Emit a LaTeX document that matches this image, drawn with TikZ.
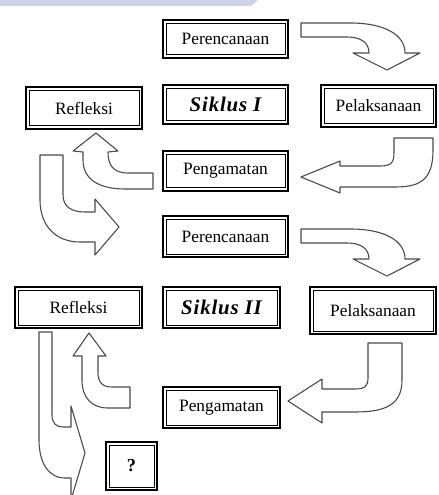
\documentclass[tikz,border=0pt]{standalone}
\usepackage{fontspec}
\setmainfont{Liberation Serif}
\usetikzlibrary{positioning}
\definecolor{band}{HTML}{CFD3E8}
\definecolor{edge}{HTML}{4A4A4A}

\tikzset{turndown/.pic = {
  \draw[blk] (0,0) -- (49,0) .. controls (84,0) and (104,12) .. (104,30)
    -- (119,30) -- (86,47) -- (52,30) -- (68,30)
    .. controls (68,19) and (59,14) .. (46,14) -- (0,14) -- cycle;}}

\begin{document}
\begin{tikzpicture}[x=0.6pt, y=-0.6pt,
  stage/.style = {draw, line width=1.4pt, inner sep=0pt, fill=white,
    font=\fontsize{10.4}{12}\selectfont,
    path picture={\draw[line width=0.5pt]
      ([shift={(1.8pt,1.8pt)}]path picture bounding box.south west) rectangle
      ([shift={(-1.8pt,-1.8pt)}]path picture bounding box.north east);}},
  siklus/.style = {stage, font=\fontsize{12.5}{14}\selectfont\bfseries\itshape\addfontfeature{LetterSpace=4}},
  blk/.style = {draw=edge, line width=0.65pt, fill=white, line join=round}]
\useasboundingbox (0,0) rectangle (438,495);
\clip (0,0) rectangle (438,495);
\fill[band] (0,0) -- (258,0) -- (251,6) -- (0,6) -- cycle;

% siklus I
\node[stage, minimum width=74.9pt, minimum height=22.7pt] (plan1) at (225.5,39) {Perencanaan};
\node[siklus, minimum width=74.9pt, minimum height=23.3pt] (sik1) at (225.5,104.5) {Siklus I};
\node[stage, minimum width=69.5pt, minimum height=25.1pt] (ref1) at (84,108) {Refleksi};
\node[stage, minimum width=68.9pt, minimum height=25.1pt] (pel1) at (378.5,106) {Pelaksanaan};
\node[stage, minimum width=74.9pt, minimum height=23.9pt] (peng1) at (225.5,171) {Pengamatan};

% siklus II
\node[stage, minimum width=74.9pt, minimum height=24.5pt] (plan2) at (225.5,236.5) {Perencanaan};
\node[stage, minimum width=76.1pt, minimum height=24.5pt] (ref2) at (78.5,307.5) {Refleksi};
\node[siklus, minimum width=70.1pt, minimum height=24.5pt] (sik2) at (221.5,307.5) {Siklus II};
\node[stage, minimum width=75.5pt, minimum height=28.1pt] (pel2) at (373,310.5) {Pelaksanaan};
\node[stage, minimum width=70.1pt, minimum height=24.5pt] (peng2) at (221.5,407.5) {Pengamatan};
\node[stage, font=\fontsize{11}{12}\selectfont\bfseries,
  minimum width=30.5pt, minimum height=28.7pt] (ask) at (131.5,466) {?};

% block arrows
\pic at (301,23) {turndown};
\pic at (301,229) {turndown};

\draw[blk] (394,138) -- (433,138) -- (433,150)
  .. controls (433,180) and (420,187) .. (395,187) -- (340,187) -- (340,193)
  -- (301,177) -- (340,161) -- (340,166) -- (380,166)
  .. controls (392,166) and (394,162) .. (394,152) -- cycle;

\draw[blk] (153,173) -- (128,173) .. controls (113,173) and (108,165) .. (108,152)
  -- (118,151) -- (96,133) -- (73,151) -- (83,152) -- (83,160)
  .. controls (83,180) and (100,189) .. (125,189) -- (153,189) -- cycle;

\draw[blk] (40,155) -- (63,155) -- (63,195)
  .. controls (63,207) and (72,212) .. (85,212) -- (95,212) -- (95,199)
  -- (119,227) -- (95,255) -- (95,242) -- (80,242)
  .. controls (55,242) and (40,225) .. (40,200) -- cycle;

\draw[blk] (368,343) -- (402,343) -- (402,380)
  .. controls (402,405) and (385,412) .. (355,412) -- (322,412) -- (322,423)
  -- (288,401) -- (322,379) -- (322,389) -- (355,389)
  .. controls (365,389) and (368,386) .. (368,378) -- cycle;

\draw[blk] (130,387) -- (112,387) .. controls (102,387) and (98,382) .. (98,372)
  -- (98,356) -- (106,356) -- (89,333) -- (73,356) -- (82,356) -- (82,380)
  .. controls (82,398) and (92,408) .. (108,408) -- (130,408) -- cycle;

\draw[blk] (39,332) -- (52,332) -- (52,415)
  .. controls (52,423) and (56,427) .. (63,427) -- (71,427) -- (71,406)
  -- (85,453) -- (71,500) -- (71,478) -- (65,478)
  .. controls (48,478) and (39,462) .. (39,440) -- cycle;
\end{tikzpicture}
\end{document}
